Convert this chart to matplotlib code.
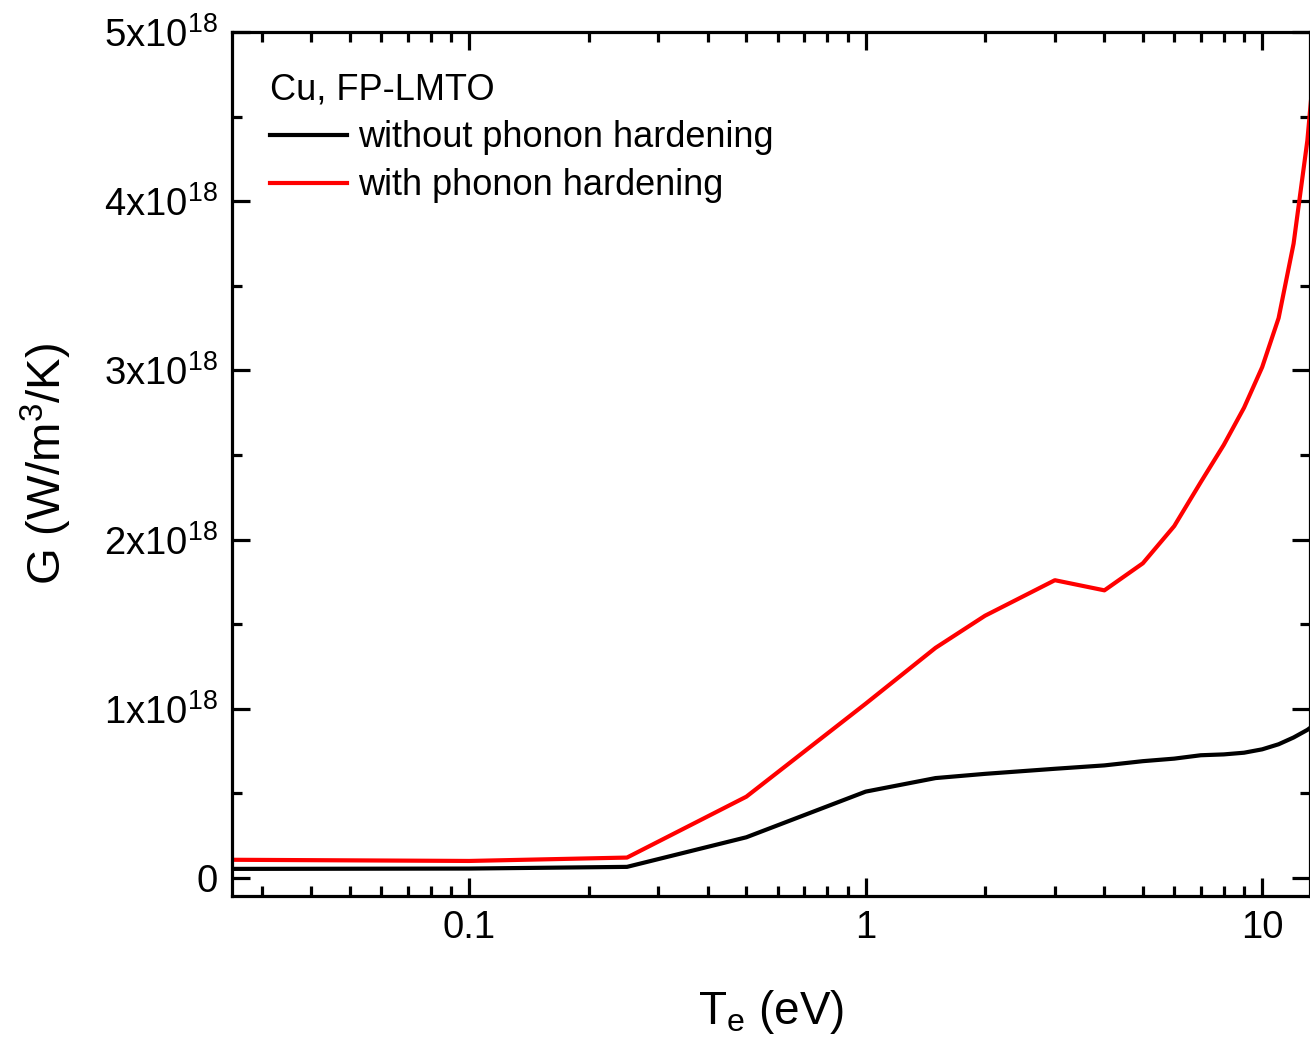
import matplotlib
matplotlib.use("Agg")
import matplotlib.pyplot as plt
from matplotlib.ticker import FixedLocator, FixedFormatter, NullFormatter

plt.rcParams['font.family'] = ['Liberation Sans', 'DejaVu Sans']
plt.rcParams['mathtext.fontset'] = 'custom'
plt.rcParams['mathtext.rm'] = 'Liberation Sans'
plt.rcParams['mathtext.it'] = 'Liberation Sans'

# Data (G in units of 1e18 W/m^3/K)
te = [0.025, 0.1, 0.25, 0.5, 1.0, 1.5, 2.0, 3.0, 4.0, 5.0, 6.0, 7.0, 8.0, 9.0, 10.0, 11.0, 12.0, 13.0, 14.0]
g_without = [0.053, 0.055, 0.065, 0.24, 0.51, 0.59, 0.615, 0.645, 0.665, 0.69, 0.705, 0.725, 0.73, 0.74, 0.76, 0.79, 0.83, 0.875, 0.93]
g_with = [0.107, 0.10, 0.12, 0.48, 1.03, 1.36, 1.55, 1.76, 1.70, 1.86, 2.08, 2.34, 2.56, 2.78, 3.02, 3.31, 3.75, 4.36, 5.2]
yticks = [0, 1, 2, 3, 4, 5]
ytick_labels = ['0', '1x10$^{18}$', '2x10$^{18}$', '3x10$^{18}$', '4x10$^{18}$', '5x10$^{18}$']
xticks = [0.1, 1, 10]
xtick_labels = ['0.1', '1', '10']

fig = plt.figure(figsize=(13.1, 10.4), dpi=100)
ax = fig.add_axes([0.177, 0.1385, 0.823, 0.8305])

scale = 1e18
ax.plot(te, [v * scale for v in g_without], color='black', lw=3.0, label='without phonon hardening')
ax.plot(te, [v * scale for v in g_with], color='#ff0000', lw=3.0, label='with phonon hardening')

ax.set_xscale('log')
ax.set_xlim(0.0252, 13.2)
ax.set_ylim(-0.107 * scale, 5.0 * scale)

ax.xaxis.set_major_locator(FixedLocator(xticks))
ax.xaxis.set_major_formatter(FixedFormatter(xtick_labels))
minors = [m * d for d in (0.01, 0.1, 1, 10) for m in range(2, 10)]
ax.xaxis.set_minor_locator(FixedLocator(minors))
ax.xaxis.set_minor_formatter(NullFormatter())

ax.yaxis.set_major_locator(FixedLocator([v * scale for v in yticks]))
ax.yaxis.set_major_formatter(FixedFormatter(ytick_labels))
ax.yaxis.set_minor_locator(FixedLocator([(v + 0.5) * scale for v in yticks[:-1]]))

for s in ax.spines.values():
    s.set_linewidth(2.3)
ax.tick_params(which='both', direction='in', top=True, right=True, width=2.3)
ax.tick_params(which='major', length=13, labelsize=27.5, pad=10)
ax.tick_params(which='minor', length=7)

ax.set_xlabel('T$_\\mathregular{e}$ (eV)', fontsize=33, labelpad=30)
ax.set_ylabel('G (W/m$^\\mathregular{3}$/K)', fontsize=34, labelpad=22)

leg = ax.legend(title='Cu, FP-LMTO', loc='upper left', bbox_to_anchor=(0.015, 0.978),
                frameon=False, fontsize=26, title_fontsize=26, handlelength=2.15,
                handletextpad=0.3, labelspacing=0.36, borderaxespad=0.2)
leg._legend_box.align = 'left'
leg._legend_box.sep = 9

fig.savefig('out.png', dpi=100)
